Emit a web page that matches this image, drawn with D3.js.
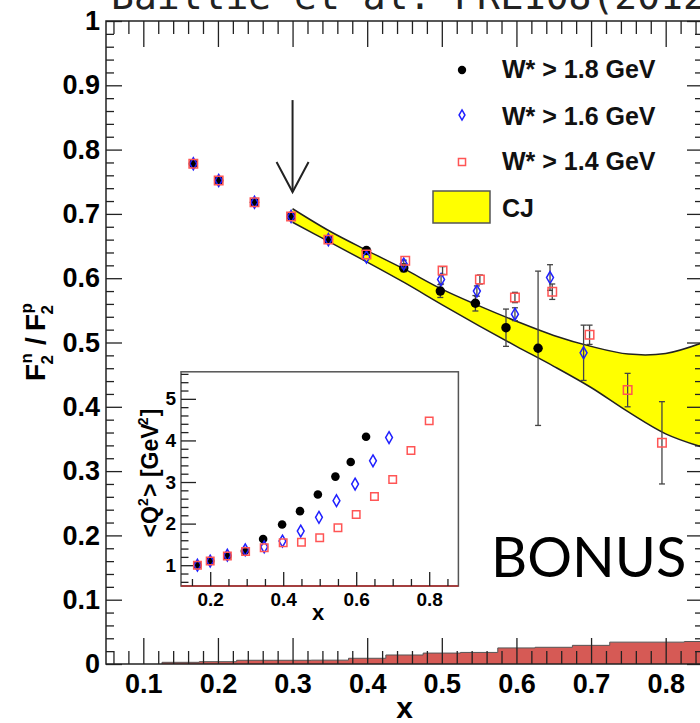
<!DOCTYPE html>
<html>
<head>
<meta charset="utf-8">
<script src="https://d3js.org/d3.v7.min.js"></script>
<style>
  body { margin: 0; background: #fff; }
  svg { display: block; }
</style>
</head>
<body>
<script>
// values
var blackX = [0.167, 0.201, 0.249, 0.298, 0.348, 0.399, 0.449, 0.498, 0.545, 0.586, 0.629];
var blackY = [0.778, 0.752, 0.718, 0.696, 0.660, 0.643, 0.616, 0.580, 0.561, 0.523, 0.491];
var blackErr = [0.004, 0.004, 0.004, 0.004, 0.005, 0.005, 0.006, 0.010, 0.012, 0.029, 0.120];

var blueX = [0.167, 0.201, 0.249, 0.298, 0.348, 0.399, 0.449, 0.499, 0.547, 0.598, 0.645, 0.690];
var blueY = [0.778, 0.752, 0.718, 0.696, 0.660, 0.633, 0.622, 0.598, 0.580, 0.544, 0.601, 0.484];
var blueErr = [0.004, 0.004, 0.004, 0.004, 0.004, 0.005, 0.006, 0.007, 0.008, 0.010, 0.020, 0.043];

var redX = [0.167, 0.201, 0.249, 0.298, 0.348, 0.399, 0.451, 0.501, 0.551, 0.598, 0.648, 0.698, 0.749, 0.795];
var redY = [0.778, 0.752, 0.718, 0.696, 0.660, 0.637, 0.627, 0.612, 0.598, 0.570, 0.579, 0.512, 0.426, 0.344];
var redErr = [0.004, 0.004, 0.004, 0.004, 0.004, 0.005, 0.005, 0.006, 0.007, 0.008, 0.012, 0.015, 0.026, 0.064];

// CJ band
var cjX = [0.30, 0.35, 0.40, 0.45, 0.50, 0.55, 0.60, 0.65, 0.70, 0.75, 0.80, 0.85];
var cjHi = [0.708, 0.673, 0.643, 0.614, 0.583, 0.557, 0.533, 0.511, 0.494, 0.482, 0.483, 0.500];
var cjLo = [0.687, 0.656, 0.625, 0.593, 0.559, 0.526, 0.494, 0.463, 0.430, 0.392, 0.358, 0.337];

// histogram at the bottom (bin edges and heights)
var histEdges = [0.125, 0.175, 0.225, 0.275, 0.325, 0.375, 0.425, 0.475, 0.525, 0.575, 0.625, 0.675, 0.725, 0.775, 0.825, 0.875];
var histVals = [0.0026, 0.0036, 0.0058, 0.0058, 0.0060, 0.0089, 0.014, 0.017, 0.018, 0.025, 0.026, 0.029, 0.034, 0.034, 0.035];

// inset <Q2>
var qBlackX = [0.165, 0.200, 0.247, 0.295, 0.345, 0.397, 0.446, 0.495, 0.543, 0.585, 0.627];
var qBlack = [1.00, 1.10, 1.22, 1.34, 1.63, 1.98, 2.30, 2.70, 3.13, 3.48, 4.09];
var qBlueX = [0.165, 0.200, 0.247, 0.296, 0.348, 0.398, 0.448, 0.498, 0.546, 0.597, 0.646, 0.690];
var qBlue = [1.00, 1.10, 1.24, 1.37, 1.44, 1.58, 1.82, 2.15, 2.55, 2.95, 3.51, 4.07];
var qRedX = [0.165, 0.200, 0.247, 0.297, 0.348, 0.400, 0.450, 0.500, 0.550, 0.600, 0.650, 0.700, 0.750, 0.800];
var qRed = [1.00, 1.10, 1.22, 1.33, 1.42, 1.54, 1.55, 1.66, 1.90, 2.22, 2.65, 3.06, 3.76, 4.47];

// ticks and labels
var xTickLabels = [0.1, 0.2, 0.3, 0.4, 0.5, 0.6, 0.7, 0.8];
var yTickLabels = [0, 0.1, 0.2, 0.3, 0.4, 0.5, 0.6, 0.7, 0.8, 0.9, 1];
var insetXLabels = [0.2, 0.4, 0.6, 0.8];
var insetYLabels = [1, 2, 3, 4, 5];
var legendLabels = ["W* > 1.8 GeV", "W* > 1.6 GeV", "W* > 1.4 GeV", "CJ"];
var arrowAt = [0.30, 0.877, 0.734];

var width = 700, height = 723;
var boldFont = "'Liberation Sans', Arial, Helvetica, sans-serif";

var svg = d3.select("body").append("svg")
    .attr("width", width)
    .attr("height", height);

var x = d3.scaleLinear().domain([0.05, 0.85]).range([106, 703]);
var y = d3.scaleLinear().domain([0, 1]).range([664, 21]);

svg.append("clipPath").attr("id", "frame")
  .append("rect")
    .attr("x", x(0.05)).attr("y", y(1))
    .attr("width", x(0.85) - x(0.05)).attr("height", y(0) - y(1));

// title, cut off at the top
svg.append("text")
    .attr("x", 111)
    .attr("y", 9)
    .attr("font-family", "'DejaVu Sans Mono', 'Liberation Mono', monospace")
    .attr("font-size", 38)
    .attr("fill", "#222")
    .text("Baillie et al. PRL108(2012");

var plot = svg.append("g").attr("clip-path", "url(#frame)");

// CJ band
var band = cjX.map(function(d, i) { return {x: d, lo: cjLo[i], hi: cjHi[i]}; });
var bandCurve = d3.curveCatmullRom.alpha(0.5);
plot.append("path")
    .datum(band)
    .attr("fill", "#ffff00")
    .attr("d", d3.area().curve(bandCurve)
      .x(function(d) { return x(d.x); })
      .y0(function(d) { return y(d.lo); })
      .y1(function(d) { return y(d.hi); }));
["hi", "lo"].forEach(function(k) {
  plot.append("path")
      .datum(band)
      .attr("fill", "none")
      .attr("stroke", "#222")
      .attr("stroke-width", 1.5)
      .attr("d", d3.line().curve(bandCurve)
        .x(function(d) { return x(d.x); })
        .y(function(d) { return y(d[k]); }));
});

// histogram
var hist = [[histEdges[0], 0]];
histVals.forEach(function(v, i) {
  hist.push([histEdges[i], v]);
  hist.push([histEdges[i + 1], v]);
});
hist.push([histEdges[histEdges.length - 1], 0]);
plot.append("path")
    .datum(hist)
    .attr("fill", "#d65a55")
    .attr("stroke", "#555")
    .attr("stroke-width", 1)
    .attr("d", d3.line()
      .x(function(d) { return x(d[0]); })
      .y(function(d) { return y(d[1]); }));

// markers
var blackSym = d3.symbol().type(d3.symbolCircle).size(70);
var blueSym = d3.symbol().type(d3.symbolDiamond).size(42);
var redSym = d3.symbol().type(d3.symbolSquare).size(72);

function drawSeries(g, sx, sy, xs, ys, errs, sym, fill, stroke) {
  var pts = xs.map(function(d, i) { return {x: d, y: ys[i], e: errs ? errs[i] : 0}; });
  if (errs) {
    var eb = g.append("g").attr("stroke", "#444").attr("stroke-width", 1.3);
    pts.forEach(function(p) {
      if (p.e < 0.006) return;
      eb.append("line")
          .attr("x1", sx(p.x)).attr("x2", sx(p.x))
          .attr("y1", sy(p.y - p.e)).attr("y2", sy(p.y + p.e));
      [p.y - p.e, p.y + p.e].forEach(function(v) {
        eb.append("line")
            .attr("x1", sx(p.x) - 3).attr("x2", sx(p.x) + 3)
            .attr("y1", sy(v)).attr("y2", sy(v));
      });
    });
  }
  g.selectAll(null)
    .data(pts)
    .enter().append("path")
      .attr("transform", function(d) { return "translate(" + sx(d.x) + "," + sy(d.y) + ")"; })
      .attr("d", sym)
      .attr("fill", fill)
      .attr("stroke", stroke)
      .attr("stroke-width", 1.5);
}

var pg = svg.append("g");
drawSeries(pg, x, y, blackX, blackY, blackErr, blackSym, "#000", "none");
drawSeries(pg, x, y, blueX, blueY, blueErr, blueSym, "none", "#2020ff");
drawSeries(pg, x, y, redX, redY, redErr, redSym, "none", "#ff5555");

// arrow at x = 0.3
var ax = x(arrowAt[0]), atop = y(arrowAt[1]), atip = y(arrowAt[2]);
svg.append("line")
    .attr("x1", ax).attr("x2", ax).attr("y1", atop).attr("y2", atip)
    .attr("stroke", "#222").attr("stroke-width", 2);
svg.append("polyline")
    .attr("points", [[ax - 16, atip - 30], [ax, atip], [ax + 16, atip - 30]].join(" "))
    .attr("fill", "none").attr("stroke", "#222").attr("stroke-width", 2);

// legend
var leg = svg.append("g");
var legY = [78, 125, 170, 217];
leg.append("path").attr("transform", "translate(462,70)")
    .attr("d", d3.symbol().type(d3.symbolCircle).size(55)).attr("fill", "#000");
leg.append("path").attr("transform", "translate(462,115)")
    .attr("d", d3.symbol().type(d3.symbolDiamond).size(30))
    .attr("fill", "none").attr("stroke", "#2020ff").attr("stroke-width", 1.5);
leg.append("path").attr("transform", "translate(462,162)")
    .attr("d", d3.symbol().type(d3.symbolSquare).size(50))
    .attr("fill", "none").attr("stroke", "#ff5555").attr("stroke-width", 1.5);
leg.append("rect")
    .attr("x", 433).attr("y", 191).attr("width", 57).attr("height", 32)
    .attr("fill", "#ffff00").attr("stroke", "#555").attr("stroke-width", 1.5);
leg.selectAll("text")
  .data(legendLabels)
  .enter().append("text")
    .attr("x", 502)
    .attr("y", function(d, i) { return legY[i]; })
    .attr("font-family", boldFont)
    .attr("font-weight", "bold")
    .attr("font-size", 25)
    .attr("fill", "#111")
    .text(function(d) { return d; });

// BONUS
svg.append("text")
    .attr("x", 491)
    .attr("y", 577)
    .attr("font-family", "Lato, 'Open Sans', sans-serif")
    .attr("font-size", 56)
    .attr("fill", "#000")
    .text("BONUS");

// axes of the main frame
var fmt = d3.format(".1~f");
var xMinor = d3.range(3, 43).filter(function(i) { return i % 5; }).map(function(i) { return i / 50; });
var yMinor = d3.range(1, 50).filter(function(i) { return i % 5; }).map(function(i) { return i / 50; });
var xMajor = d3.range(1, 9).map(function(i) { return i / 10; });
var yMajor = d3.range(0, 11).map(function(i) { return i / 10; });

function styleAxis(g, size) {
  g.select(".domain").remove();
  g.attr("color", "#222");
  g.selectAll(".tick line").attr("stroke-width", 1.3);
  g.selectAll("text")
    .attr("font-family", boldFont)
    .attr("font-weight", "bold")
    .attr("font-size", size)
    .attr("fill", "#000");
}

var axes = svg.append("g");
var bx = axes.append("g").attr("transform", "translate(0," + y(0) + ")");
bx.append("g").call(d3.axisBottom(x).tickValues(xTickLabels).tickSizeInner(-26).tickSizeOuter(0)
    .tickPadding(10).tickFormat(fmt)).call(styleAxis, 27);
bx.append("g").call(d3.axisBottom(x).tickValues(xMinor).tickSizeInner(-13).tickSizeOuter(0)
    .tickFormat("")).call(styleAxis, 27);
var tx = axes.append("g").attr("transform", "translate(0," + y(1) + ")");
tx.append("g").call(d3.axisTop(x).tickValues(xMajor).tickSizeInner(-26).tickSizeOuter(0)
    .tickFormat("")).call(styleAxis, 27);
tx.append("g").call(d3.axisTop(x).tickValues(xMinor).tickSizeInner(-13).tickSizeOuter(0)
    .tickFormat("")).call(styleAxis, 27);
var ly = axes.append("g").attr("transform", "translate(" + x(0.05) + ",0)");
ly.append("g").call(d3.axisLeft(y).tickValues(yTickLabels).tickSizeInner(-16).tickSizeOuter(0)
    .tickPadding(6).tickFormat(fmt)).call(styleAxis, 27);
ly.append("g").call(d3.axisLeft(y).tickValues(yMinor).tickSizeInner(-8).tickSizeOuter(0)
    .tickFormat("")).call(styleAxis, 27);
var ry = axes.append("g").attr("transform", "translate(" + x(0.85) + ",0)");
ry.append("g").call(d3.axisRight(y).tickValues(yMajor).tickSizeInner(-16).tickSizeOuter(0)
    .tickFormat("")).call(styleAxis, 27);
ry.append("g").call(d3.axisRight(y).tickValues(yMinor).tickSizeInner(-8).tickSizeOuter(0)
    .tickFormat("")).call(styleAxis, 27);

axes.append("rect")
    .attr("x", x(0.05)).attr("y", y(1))
    .attr("width", x(0.85) - x(0.05)).attr("height", y(0) - y(1))
    .attr("fill", "none").attr("stroke", "#222").attr("stroke-width", 1.5);

// titles with sub/superscripts, built piece by piece
function richTitle(g, parts, size, small) {
  var cur = 0;
  parts.forEach(function(p) {
    if (typeof p === "string") {
      var t = g.append("text").attr("x", cur).attr("y", 0)
          .attr("font-size", size).attr("xml:space", "preserve").text(p);
      cur += t.node().getComputedTextLength();
    } else {
      var w = 0;
      if (p.sub) {
        var s = g.append("text").attr("x", cur + 1).attr("y", size * 0.28)
            .attr("font-size", small).text(p.sub);
        w = Math.max(w, s.node().getComputedTextLength());
      }
      if (p.sup) {
        var u = g.append("text").attr("x", cur + 2).attr("y", -size * 0.45)
            .attr("font-size", small).text(p.sup);
        w = Math.max(w, u.node().getComputedTextLength() + 1);
      }
      cur += w + 3;
    }
  });
  g.selectAll("text")
    .attr("font-family", boldFont)
    .attr("font-weight", "bold")
    .attr("fill", "#000")
    .attr("dx", -cur / 2);
}

var yt = svg.append("g").attr("transform", "translate(45,342) rotate(-90)");
richTitle(yt, ["F", {sub: "2", sup: "n"}, " / ", "F", {sub: "2", sup: "p"}], 28, 17);

svg.append("text")
    .attr("x", (x(0.05) + x(0.85)) / 2)
    .attr("y", 718)
    .attr("text-anchor", "middle")
    .attr("font-family", boldFont)
    .attr("font-weight", "bold")
    .attr("font-size", 30)
    .text("x");

// inset
var ix = d3.scaleLinear().domain([0.12, 0.88]).range([181, 458.4]);
var iy = d3.scaleLinear().domain([0.5, 5.65]).range([586, 371.8]);
var inset = svg.append("g");
inset.append("rect")
    .attr("x", ix(0.12)).attr("y", iy(5.65))
    .attr("width", ix(0.88) - ix(0.12)).attr("height", iy(0.5) - iy(5.65))
    .attr("fill", "#fff").attr("stroke", "#555").attr("stroke-width", 1.5);
inset.append("line")
    .attr("x1", ix(0.12)).attr("x2", ix(0.88)).attr("y1", iy(0.5)).attr("y2", iy(0.5))
    .attr("stroke", "#b02a2a").attr("stroke-width", 1.5);

var ixMinor = d3.range(3, 18).filter(function(i) { return i % 4; }).map(function(i) { return i / 20; });
var iyMinor = d3.range(3, 29).filter(function(i) { return i % 5; }).map(function(i) { return i / 5; });
var ibx = inset.append("g").attr("transform", "translate(0," + iy(0.5) + ")");
ibx.append("g").call(d3.axisBottom(ix).tickValues(insetXLabels).tickSizeInner(-14).tickSizeOuter(0)
    .tickPadding(7).tickFormat(fmt)).call(styleAxis, 19);
ibx.append("g").call(d3.axisBottom(ix).tickValues(ixMinor).tickSizeInner(-7).tickSizeOuter(0)
    .tickFormat("")).call(styleAxis, 19);
var ily = inset.append("g").attr("transform", "translate(" + ix(0.12) + ",0)");
ily.append("g").call(d3.axisLeft(iy).tickValues(insetYLabels).tickSizeInner(-15).tickSizeOuter(0)
    .tickPadding(5).tickFormat(d3.format("d"))).call(styleAxis, 19);
ily.append("g").call(d3.axisLeft(iy).tickValues(iyMinor).tickSizeInner(-7.5).tickSizeOuter(0)
    .tickFormat("")).call(styleAxis, 19);

var ip = inset.append("g");
drawSeries(ip, ix, iy, qBlackX, qBlack, null, d3.symbol().type(d3.symbolCircle).size(58), "#000", "none");
drawSeries(ip, ix, iy, qBlueX, qBlue, null, d3.symbol().type(d3.symbolDiamond).size(40), "none", "#2020ff");
drawSeries(ip, ix, iy, qRedX, qRed, null, d3.symbol().type(d3.symbolSquare).size(56), "none", "#ff5555");

var iyt = inset.append("g").attr("transform", "translate(158,473) rotate(-90)");
richTitle(iyt, ["<Q", {sup: "2"}, "> [GeV", {sup: "2"}, "]"], 23, 14);

inset.append("text")
    .attr("x", 318)
    .attr("y", 620)
    .attr("text-anchor", "middle")
    .attr("font-family", boldFont)
    .attr("font-weight", "bold")
    .attr("font-size", 22)
    .text("x");
</script>
</body>
</html>
